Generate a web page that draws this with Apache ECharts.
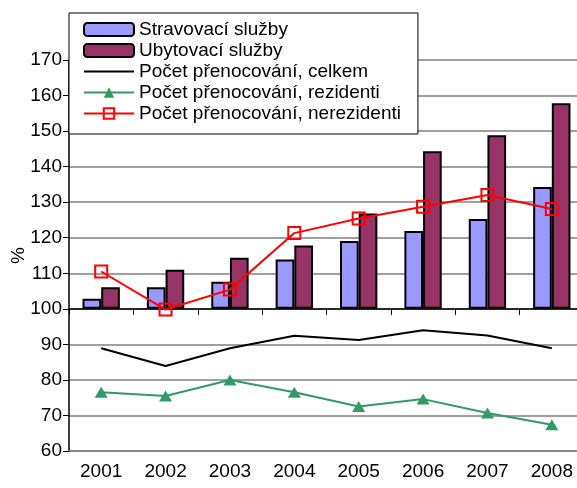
<!DOCTYPE html>
<html>
<head>
<meta charset="utf-8">
<script src="https://cdn.jsdelivr.net/npm/echarts@6/dist/echarts.min.js"></script>
<style>
  html, body { margin: 0; padding: 0; background: #fff; }
  #chart { width: 577px; height: 488px; }
</style>
</head>
<body>
<div id="chart"></div>
<script>
// Years on the category axis
const years = ['2001', '2002', '2003', '2004', '2005', '2006', '2007', '2008'];

// Index values in % (bars rise from the 100 base line)
const stravovaci = [102.8, 106.1, 107.6, 113.9, 119.1, 121.9, 125.3, 134.3];
const ubytovaci = [106.1, 111.0, 114.4, 117.8, 126.8, 144.3, 148.8, 157.8];

// Overnight stays, index in %
const celkem = [88.9, 83.9, 88.9, 92.4, 91.2, 94.0, 92.5, 88.9];
const rezidenti = [76.5, 75.5, 80.0, 76.5, 72.5, 74.6, 70.7, 67.4];
const nerezidenti = [110.5, 99.8, 105.4, 121.3, 125.4, 128.7, 132.0, 128.1];

// Value axis range and the level the bars start from
const yMin = 60, yMax = 170, yStep = 10;
const barBase = 100;

const font = 'Liberation Sans, Arial, sans-serif';
const chartHeight = 488, gridTop = 60, gridBottom = 37;
const plotHeight = chartHeight - gridTop - gridBottom;
const baseOffset = -plotHeight * (barBase - yMin) / (yMax - yMin);

const baseValues = years.map(() => barBase);
const above = arr => arr.map(v => +(v - barBase).toFixed(2));

const barBorder = { borderColor: '#000', borderWidth: 2 };

const chart = echarts.init(document.getElementById('chart'), null, { renderer: 'canvas' });

chart.setOption({
  animation: false,
  backgroundColor: '#fff',
  textStyle: { fontFamily: font },
  grid: {
    left: 69, right: -7, top: gridTop, bottom: gridBottom,
    containLabel: false, outerBoundsMode: 'none'
  },
  legend: {
    orient: 'vertical',
    left: 69,
    top: 13,
    padding: [7, 17, 11, 14],
    backgroundColor: '#fff',
    borderColor: '#000',
    borderWidth: 1,
    itemWidth: 50,
    itemHeight: 13,
    itemGap: 2,
    textStyle: { fontSize: 19, color: '#000', fontFamily: font, lineHeight: 19 },
    data: [
      'Stravovací služby',
      'Ubytovací služby',
      'Počet přenocování, celkem',
      'Počet přenocování, rezidenti',
      'Počet přenocování, nerezidenti'
    ]
  },
  xAxis: [
    {
      type: 'category',
      data: years,
      position: 'bottom',
      axisLine: { lineStyle: { color: '#808080', width: 1.5 } },
      axisTick: { show: false },
      axisLabel: { fontSize: 19, color: '#000', margin: 11, fontFamily: font, interval: 0 }
    },
    {
      // base line at 100 with category ticks
      type: 'category',
      data: years,
      position: 'bottom',
      offset: baseOffset,
      axisLine: { lineStyle: { color: '#000', width: 1.5 } },
      axisTick: { show: true, length: 6, lineStyle: { color: '#000' } },
      axisLabel: { show: false }
    }
  ],
  yAxis: {
    type: 'value',
    min: yMin,
    max: yMax,
    interval: yStep,
    name: '%',
    nameLocation: 'middle',
    nameGap: 41,
    nameRotate: 90,
    nameMoveOverlap: false,
    nameTextStyle: { fontSize: 19, color: '#000', fontFamily: font },
    axisLine: { show: true, lineStyle: { color: '#000', width: 1.5 } },
    axisTick: { show: true, length: 6, lineStyle: { color: '#000' } },
    axisLabel: { fontSize: 19, color: '#000', margin: 7, fontFamily: font },
    splitLine: { lineStyle: { color: '#808080', width: 1.5 } }
  },
  series: [
    {
      name: 'base1', type: 'bar', stack: 's1', data: baseValues,
      itemStyle: { color: 'rgba(0,0,0,0)' }, silent: true,
      barGap: '0%', barCategoryGap: '42%'
    },
    {
      name: 'Stravovací služby', type: 'bar', stack: 's1', data: above(stravovaci),
      itemStyle: Object.assign({ color: '#9999FF' }, barBorder),
      barGap: '0%', barCategoryGap: '42%'
    },
    {
      name: 'base2', type: 'bar', stack: 's2', data: baseValues,
      itemStyle: { color: 'rgba(0,0,0,0)' }, silent: true,
      barGap: '0%', barCategoryGap: '42%'
    },
    {
      name: 'Ubytovací služby', type: 'bar', stack: 's2', data: above(ubytovaci),
      itemStyle: Object.assign({ color: '#993366' }, barBorder),
      barGap: '0%', barCategoryGap: '42%'
    },
    {
      name: 'Počet přenocování, celkem', type: 'line', data: celkem,
      symbol: 'circle', showSymbol: false,
      lineStyle: { color: '#000', width: 2 },
      itemStyle: { color: 'rgba(0,0,0,0)', borderWidth: 0 },
      z: 5
    },
    {
      name: 'Počet přenocování, rezidenti', type: 'line', data: rezidenti,
      symbol: 'triangle', symbolSize: [13, 11],
      lineStyle: { color: '#339966', width: 2 },
      itemStyle: { color: '#339966' },
      z: 5
    },
    {
      name: 'Počet přenocování, nerezidenti', type: 'line', data: nerezidenti,
      symbol: 'rect', symbolSize: 12,
      lineStyle: { color: '#FF0000', width: 2 },
      itemStyle: { color: 'rgba(255,255,255,0)', borderColor: '#FF0000', borderWidth: 2 },
      z: 6
    }
  ]
});
</script>
</body>
</html>
